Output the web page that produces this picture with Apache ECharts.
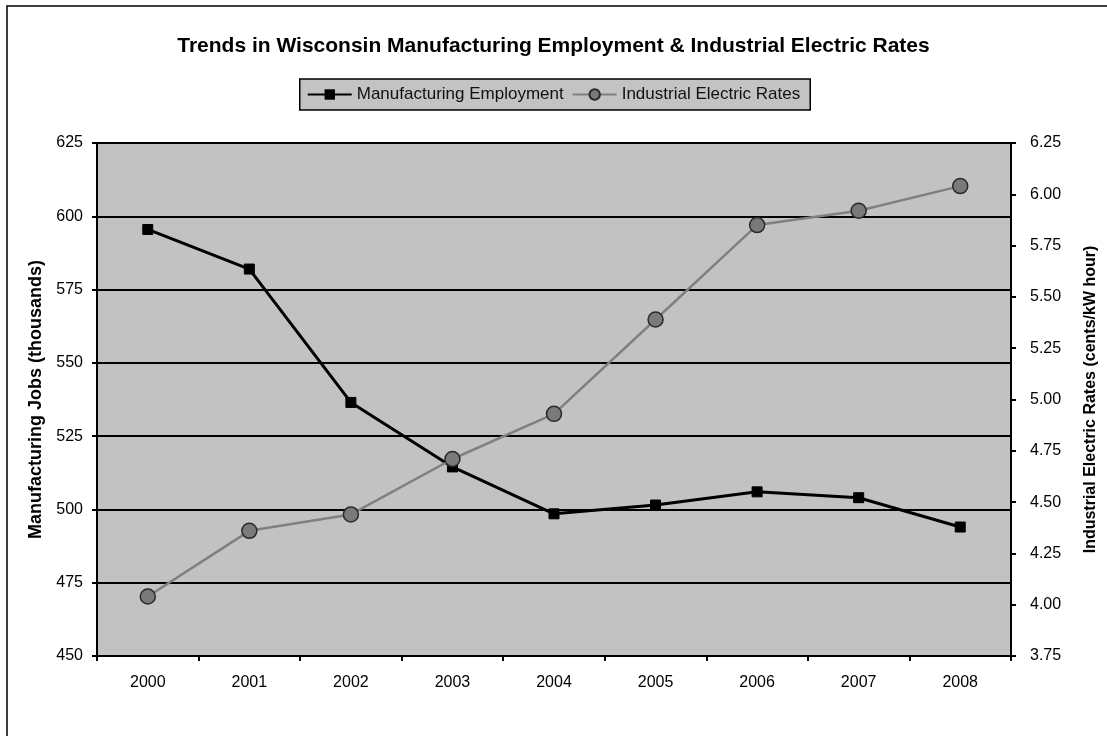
<!DOCTYPE html>
<html>
<head>
<meta charset="utf-8">
<script src="https://cdn.jsdelivr.net/npm/echarts@6/dist/echarts.min.js"></script>
<style>
html,body{margin:0;padding:0;background:#fff;}
#chart{width:1107px;height:736px;}
</style>
</head>
<body>
<div id="chart"></div>
<script>
const years = ['2000','2001','2002','2003','2004','2005','2006','2007','2008'];
const employment = [595.5, 582, 536.5, 514.5, 498.5, 501.5, 506, 504, 494];
const rates = [4.04, 4.36, 4.44, 4.71, 4.93, 5.39, 5.85, 5.92, 6.04];
const titleText = 'Trends in Wisconsin Manufacturing Employment & Industrial Electric Rates';
const seriesNames = ['Manufacturing Employment', 'Industrial Electric Rates'];
const leftAxisName = 'Manufacturing Jobs (thousands)';
const rightAxisName = 'Industrial Electric Rates (cents/kW hour)';

const font = 'Liberation Sans, Arial, sans-serif';
const chart = echarts.init(document.getElementById('chart'));
chart.setOption({
  backgroundColor: '#fff',
  animation: false,
  graphic: [{
    type: 'rect', shape: {x: 7, y: 6, width: 1120, height: 760},
    style: {fill: 'none', stroke: '#000', lineWidth: 1.5}, silent: true, z: -1
  }],
  title: {
    text: titleText, left: 'center', top: 31,
    textStyle: {fontFamily: font, fontWeight: 'bold', fontSize: 21, color: '#000'}
  },
  legend: {
    top: 79, left: 'center', padding: [7, 10, 7, 7],
    backgroundColor: '#c3c3c3', borderColor: '#000', borderWidth: 1.5,
    itemWidth: 44, itemHeight: 13, itemGap: 8,
    textStyle: {fontFamily: font, fontSize: 17, color: '#111'},
    data: seriesNames
  },
  grid: {
    left: 97, right: 96, top: 143, bottom: 80,
    containLabel: false, outerBoundsMode: 'none',
    show: true, backgroundColor: '#c2c2c2', borderColor: '#8a8a8a', borderWidth: 1
  },
  xAxis: {
    type: 'category', data: years, boundaryGap: true,
    axisLine: {lineStyle: {color: '#000', width: 2}},
    axisTick: {show: true, length: 5, lineStyle: {color: '#000', width: 2}},
    axisLabel: {fontFamily: font, fontSize: 16, color: '#000', margin: 19}
  },
  yAxis: [{
    type: 'value', min: 450, max: 625, interval: 25,
    name: leftAxisName, nameLocation: 'middle', nameGap: 46, nameRotate: 90,
    nameTextStyle: {fontFamily: font, fontWeight: 'bold', fontSize: 18, color: '#000'},
    axisLine: {show: true, lineStyle: {color: '#000', width: 2}},
    axisTick: {show: true, length: 5, lineStyle: {color: '#000', width: 2}},
    axisLabel: {fontFamily: font, fontSize: 16, color: '#000', margin: 14},
    splitLine: {show: true, lineStyle: {color: '#000', width: 2}}
  }, {
    type: 'value', min: 3.75, max: 6.25, interval: 0.25, position: 'right',
    name: rightAxisName, nameLocation: 'middle', nameGap: 72, nameRotate: 90,
    nameTextStyle: {fontFamily: font, fontWeight: 'bold', fontSize: 16, color: '#000'},
    axisLine: {show: true, lineStyle: {color: '#000', width: 2}},
    axisTick: {show: true, length: 5, lineStyle: {color: '#000', width: 2}},
    axisLabel: {fontFamily: font, fontSize: 16, color: '#000', margin: 19,
      formatter: v => v.toFixed(2)},
    splitLine: {show: false}
  }],
  series: [{
    name: seriesNames[0], type: 'line', data: employment, yAxisIndex: 0,
    symbol: 'rect', symbolSize: 10,
    lineStyle: {color: '#000', width: 3},
    itemStyle: {color: '#000', borderColor: '#000'}
  }, {
    name: seriesNames[1], type: 'line', data: rates, yAxisIndex: 1,
    symbol: 'circle', symbolSize: 15,
    lineStyle: {color: '#808080', width: 2.5},
    itemStyle: {color: '#7a7a7a', borderColor: '#2a2a2a', borderWidth: 1.5}
  }]
});
</script>
</body>
</html>
